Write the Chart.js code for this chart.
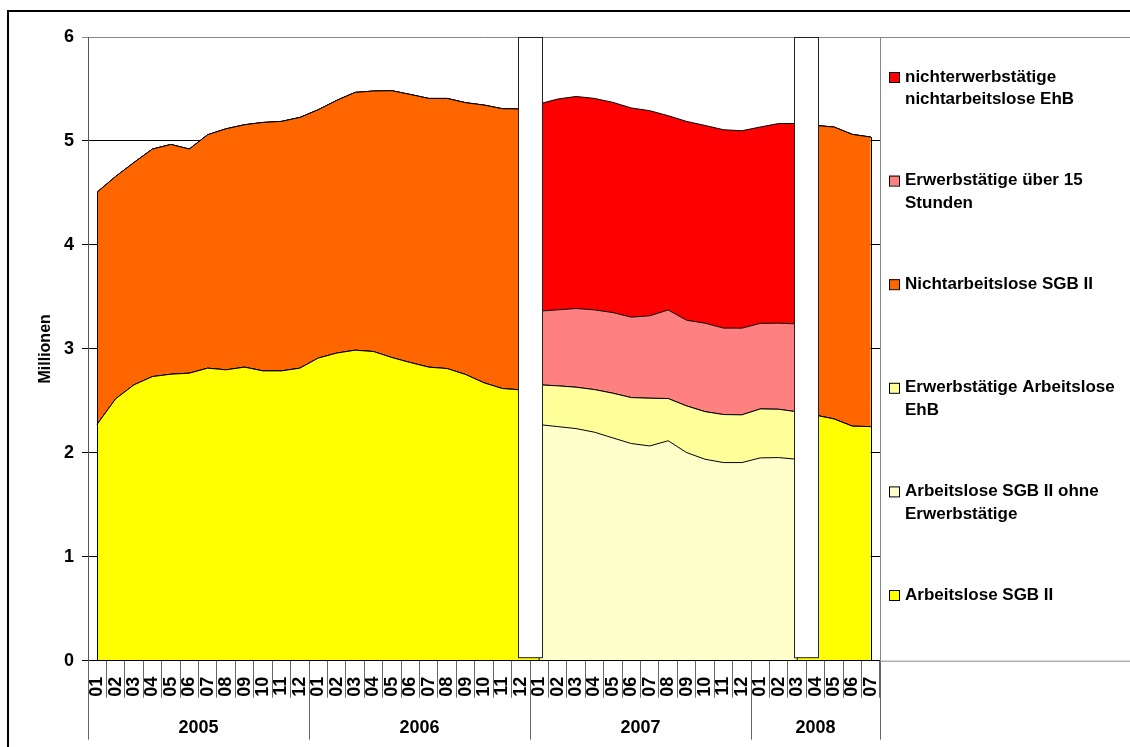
<!DOCTYPE html>
<html><head><meta charset="utf-8">
<script src="https://cdn.jsdelivr.net/npm/chart.js@4.4.1/dist/chart.umd.min.js"></script>
<style>html,body{margin:0;padding:0;background:#fff;overflow:hidden}</style>
</head><body>
<canvas id="c" width="1130" height="747"></canvas>
<script>
// ---- DATA ----
const months = ['01','02','03','04','05','06','07','08','09','10','11','12',
                '01','02','03','04','05','06','07','08','09','10','11','12',
                '01','02','03','04','05','06','07','08','09','10','11','12',
                '01','02','03','04','05','06','07'];
const years = ['2005','2006','2007','2008'];
const yearMonthCounts = [12,12,12,7];
const gapPositions = [23.5, 38.5]; // between 2006-12/2007-01 and 2008-03/2008-04

const arbeitsloseSGB2 = [2.275,2.519,2.654,2.733,2.756,2.766,2.814,2.798,2.824,2.788,2.788,2.814,
                         2.911,2.959,2.987,2.974,2.916,2.868,2.824,2.810,2.753,2.673,2.618,2.605,
                         0,0,0,0,0,0,0,0,0,0,0,0,
                         0,0,0,2.362,2.326,2.256,2.252];
const arbeitsloseOhneErw = [0,0,0,0,0,0,0,0,0,0,0,0,
                            0,0,0,0,0,0,0,0,0,0,0,0,
                            2.271,2.252,2.233,2.198,2.143,2.089,2.066,2.116,2.002,1.938,1.906,1.906,
                            1.951,1.954,1.938,0,0,0,0];
const erwArbeitsloseEhB = [0,0,0,0,0,0,0,0,0,0,0,0,
                           0,0,0,0,0,0,0,0,0,0,0,0,
                           0.383,0.392,0.398,0.410,0.430,0.442,0.459,0.406,0.449,0.458,0.462,0.459,
                           0.471,0.465,0.456,0,0,0,0];
const nichtarbeitsloseSGB2 = [2.233,2.139,2.139,2.189,2.210,2.156,2.246,2.319,2.332,2.390,2.400,2.412,
                              2.389,2.431,2.480,2.506,2.567,2.579,2.585,2.599,2.615,2.672,2.692,2.702,
                              0,0,0,0,0,0,0,0,0,0,0,0,
                              0,0,0,2.787,2.808,2.807,2.785];
const erwUeber15 = [0,0,0,0,0,0,0,0,0,0,0,0,
                    0,0,0,0,0,0,0,0,0,0,0,0,
                    0.709,0.731,0.757,0.767,0.776,0.774,0.793,0.852,0.824,0.851,0.832,0.834,
                    0.823,0.828,0.846,0,0,0,0];
const nichterwNichtarbEhB = [0,0,0,0,0,0,0,0,0,0,0,0,
                             0,0,0,0,0,0,0,0,0,0,0,0,
                             1.993,2.028,2.040,2.034,2.022,2.012,1.973,1.869,1.913,1.902,1.908,1.899,
                             1.889,1.921,1.928,0,0,0,0];

const seriesNames = ['Arbeitslose SGB II','Arbeitslose SGB II ohne Erwerbstätige','Erwerbstätige Arbeitslose EhB',
                     'Nichtarbeitslose SGB II','Erwerbstätige über 15 Stunden','nichterwerbstätige nichtarbeitslose EhB'];
const seriesColors = ['#FFFF00','#FFFFCC','#FFFF99','#FF6600','#FF8080','#FF0000'];
const seriesData = [arbeitsloseSGB2, arbeitsloseOhneErw, erwArbeitsloseEhB, nichtarbeitsloseSGB2, erwUeber15, nichterwNichtarbEhB];
// legend (top to bottom) with line breaks as in the original
const legendItems = [
  {i:5, lines:['nichterwerbstätige','nichtarbeitslose EhB']},
  {i:4, lines:['Erwerbstätige über 15','Stunden']},
  {i:3, lines:['Nichtarbeitslose SGB II']},
  {i:2, lines:['Erwerbstätige Arbeitslose','EhB']},
  {i:1, lines:['Arbeitslose SGB II ohne','Erwerbstätige']},
  {i:0, lines:['Arbeitslose SGB II']}
];

const FONT = "'Liberation Sans', Arial, sans-serif";

const datasets = seriesData.map((d, i) => ({
  label: seriesNames[i],
  data: d,
  backgroundColor: seriesColors[i],
  borderColor: '#000',
  borderWidth: 1,
  fill: i === 0 ? 'origin' : '-1',
  pointRadius: 0,
  tension: 0
}));

const decorPlugin = {
  id: 'decor',
  beforeDraw(chart) {
    const ctx = chart.ctx;
    ctx.save();
    ctx.strokeStyle = '#000'; ctx.lineWidth = 2;
    ctx.strokeRect(8, 11, 1140, 800);
    ctx.restore();
  },
  afterDatasetsDraw(chart) {
    const ctx = chart.ctx, xs = chart.scales.x, ys = chart.scales.y;
    const band = xs.getPixelForValue(1) - xs.getPixelForValue(0);
    ctx.save();
    // vertical edges of the stacked area at first and last month
    ctx.strokeStyle = '#000'; ctx.lineWidth = 1;
    [0, months.length - 1].forEach(k => {
      const tot = seriesData.reduce((s, d) => s + d[k], 0);
      const x = Math.round(xs.getPixelForValue(k)) + 0.5;
      ctx.beginPath(); ctx.moveTo(x, ys.getPixelForValue(0)); ctx.lineTo(x, ys.getPixelForValue(tot)); ctx.stroke();
    });
    // white separator bars
    gapPositions.forEach(g => {
      const cx = (xs.getPixelForValue(Math.floor(g)) + xs.getPixelForValue(Math.ceil(g))) / 2;
      const w = band * 1.3;
      const top = ys.getPixelForValue(6) + 0.5;
      const bot = ys.getPixelForValue(0) - 3;
      ctx.fillStyle = '#fff';
      ctx.fillRect(cx - w/2, top, w, bot - top);
      ctx.strokeStyle = '#222';
      ctx.strokeRect(Math.round(cx - w/2) + 0.5, top, Math.round(w), bot - top);
    });
    ctx.restore();
  },
  afterDraw(chart) {
    const ctx = chart.ctx, xs = chart.scales.x, ca = chart.chartArea;
    const band = xs.getPixelForValue(1) - xs.getPixelForValue(0);
    ctx.save();
    // year row
    let start = 0;
    ctx.strokeStyle = '#666'; ctx.lineWidth = 1;
    const bx = k => xs.getPixelForValue(k) - band / 2;
    ctx.beginPath();
    let x0 = Math.round(bx(0)) + 0.5;
    ctx.moveTo(x0, xs.top); ctx.lineTo(x0, xs.top + 79);
    ctx.stroke();
    ctx.fillStyle = '#000';
    ctx.font = 'bold 18px ' + FONT;
    ctx.textAlign = 'center'; ctx.textBaseline = 'middle';
    years.forEach((y, i) => {
      const end = start + yearMonthCounts[i];
      const xe = Math.round(bx(end)) + 0.5;
      ctx.beginPath(); ctx.moveTo(xe, xs.top); ctx.lineTo(xe, xs.top + 79); ctx.stroke();
      ctx.fillText(y, (bx(start) + bx(end)) / 2, xs.top + 67);
      start = end;
    });
    // legend box
    const lx = ca.right;
    ctx.strokeStyle = '#888'; ctx.lineWidth = 1;
    ctx.strokeRect(Math.round(lx) + 0.5, Math.round(ca.top) + 0.5, 400, ca.bottom - ca.top);
    ctx.font = 'bold 17px ' + FONT;
    ctx.textAlign = 'left'; ctx.textBaseline = 'middle';
    legendItems.forEach((it, j) => {
      const yc = ca.top + 40 + j * 103.6;
      ctx.fillStyle = seriesColors[it.i];
      ctx.fillRect(lx + 9, yc - 5, 10, 10);
      ctx.strokeStyle = '#000';
      ctx.strokeRect(lx + 9.5, yc - 4.5, 10, 10);
      ctx.fillStyle = '#000';
      it.lines.forEach((t, m) => ctx.fillText(t, lx + 25, yc + m * 22.5));
    });
    ctx.restore();
  }
};

new Chart(document.getElementById('c'), {
  type: 'line',
  data: { labels: months, datasets },
  plugins: [decorPlugin],
  options: {
    responsive: false,
    animation: false,
    layout: { padding: { left: 36, right: 250, top: 37, bottom: 0 } },
    plugins: { legend: { display: false }, tooltip: { enabled: false } },
    scales: {
      x: {
        type: 'category', offset: true,
        grid: { offset: true, drawOnChartArea: false, drawTicks: true, tickLength: 37, color: '#666', lineWidth: 1 },
        border: { display: true, color: '#000', z: 1 },
        ticks: { autoSkip: false, maxRotation: 90, minRotation: 90, padding: -21, color: '#000',
                 font: { family: FONT, weight: 'bold', size: 18 } },
        afterFit: s => { s.height = 86.3; }
      },
      y: {
        stacked: true, min: 0, max: 6,
        ticks: { stepSize: 1, padding: 8, color: '#000', font: { family: FONT, weight: 'bold', size: 18 } },
        grid: { color: c => (c.tick && c.tick.value === 6) ? '#888' : '#000', tickLength: 6, drawTicks: true },
        border: { color: '#555', z: 1 },
        title: { display: true, text: 'Millionen', color: '#000', padding: { top: 0, bottom: 0 },
                 font: { family: FONT, weight: 'bold', size: 16 } },
        afterFit: s => { s.width = 52; }
      }
    }
  }
});
</script>
</body></html>
